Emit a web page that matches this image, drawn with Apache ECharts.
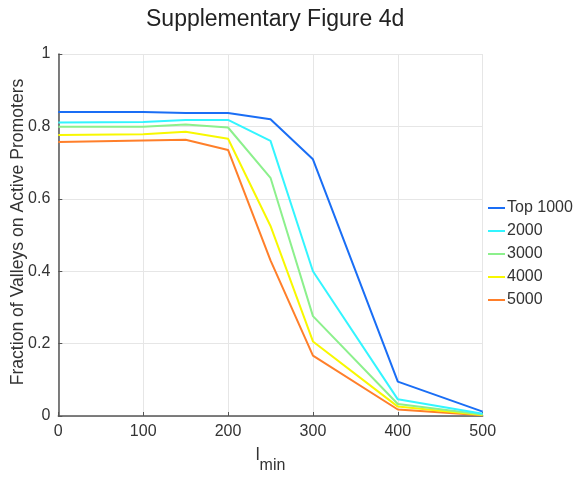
<!DOCTYPE html>
<html>
<head>
<meta charset="utf-8">
<script src="https://cdn.jsdelivr.net/npm/echarts@6/dist/echarts.min.js"></script>
<style>
  html, body { margin: 0; padding: 0; background: #fff; }
  #chart { width: 579px; height: 479px; }
</style>
</head>
<body>
<div id="chart"></div>
<script>
// l_min thresholds
const lMin = [0, 100, 150, 200, 250, 300, 400, 500];

// Fraction of valleys on active promoters, per top-N set
const top1000 = [0.840, 0.840, 0.837, 0.837, 0.820, 0.709, 0.095, 0.012];
const top2000 = [0.811, 0.812, 0.818, 0.818, 0.760, 0.400, 0.046, 0.006];
const top3000 = [0.799, 0.799, 0.805, 0.797, 0.658, 0.276, 0.033, 0.004];
const top4000 = [0.776, 0.778, 0.785, 0.766, 0.525, 0.206, 0.026, 0.003];
const top5000 = [0.757, 0.761, 0.763, 0.735, 0.430, 0.167, 0.018, 0.002];

const seriesNames = ['Top 1000', '2000', '3000', '4000', '5000'];
const seriesValues = [top1000, top2000, top3000, top4000, top5000];
const seriesColors = ['#1a6ef5', '#33f5ff', '#8cf08c', '#f8f800', '#ff7f2a'];

const textColor = '#333333';
const font = 'Liberation Sans, Arial, Helvetica, sans-serif';

const chart = echarts.init(document.getElementById('chart'), null, { renderer: 'canvas' });

chart.setOption({
  backgroundColor: '#ffffff',
  animation: false,
  title: {
    text: 'Supplementary Figure 4d',
    left: 141,
    top: 3,
    textStyle: { fontSize: 23, fontWeight: 'normal', color: '#222222', fontFamily: font }
  },
  legend: {
    orient: 'vertical',
    left: 488,
    top: 200,
    padding: 0,
    itemGap: 7,
    itemWidth: 17,
    itemHeight: 2,
    icon: 'rect',
    data: seriesNames,
    textStyle: { fontSize: 16, color: textColor, fontFamily: font, lineHeight: 16, padding: [0, 0, 0, -3] }
  },
  grid: { left: 58.3, right: 96.3, top: 54, bottom: 63, outerBoundsMode: 'none', containLabel: false },
  xAxis: {
    type: 'value',
    min: 0,
    max: 500,
    interval: 100,
    name: '{l|l}{m|min}',
    nameLocation: 'middle',
    nameGap: 30,
    nameMoveOverlap: false,
    nameTextStyle: {
      fontFamily: font,
      color: textColor,
      rich: {
        l: { fontSize: 17.6, color: textColor, fontFamily: font, verticalAlign: 'top', lineHeight: 17 },
        m: { fontSize: 16, color: textColor, fontFamily: font, padding: [23, 0, 0, 0], lineHeight: 16 }
      }
    },
    axisLine: { onZero: false, lineStyle: { color: '#555555', width: 1.5 } },
    axisTick: { inside: true, length: 4, lineStyle: { color: '#555555' } },
    axisLabel: { fontSize: 16, color: textColor, fontFamily: font, margin: 8 },
    splitLine: { show: true, lineStyle: { color: '#e6e6e6', width: 1 } }
  },
  yAxis: {
    type: 'value',
    min: 0,
    max: 1,
    interval: 0.2,
    name: 'Fraction of Valleys on Active Promoters',
    nameLocation: 'middle',
    nameGap: 31,
    nameMoveOverlap: false,
    nameTextStyle: { fontSize: 17.6, color: textColor, fontFamily: font, padding: [0, 0, 0, 6] },
    axisLine: { show: true, lineStyle: { color: '#555555', width: 1.5 } },
    axisTick: { show: true, inside: true, length: 4, lineStyle: { color: '#555555' } },
    axisLabel: { fontSize: 16, color: textColor, fontFamily: font, margin: 8 },
    splitLine: { show: true, lineStyle: { color: '#e6e6e6', width: 1 } }
  },
  series: seriesNames.map((name, i) => ({
    name: name,
    type: 'line',
    symbol: 'none',
    data: lMin.map((x, j) => [x, seriesValues[i][j]]),
    lineStyle: { color: seriesColors[i], width: 2 },
    itemStyle: { color: seriesColors[i] },
    z: 10 - i
  }))
});
</script>
</body>
</html>
